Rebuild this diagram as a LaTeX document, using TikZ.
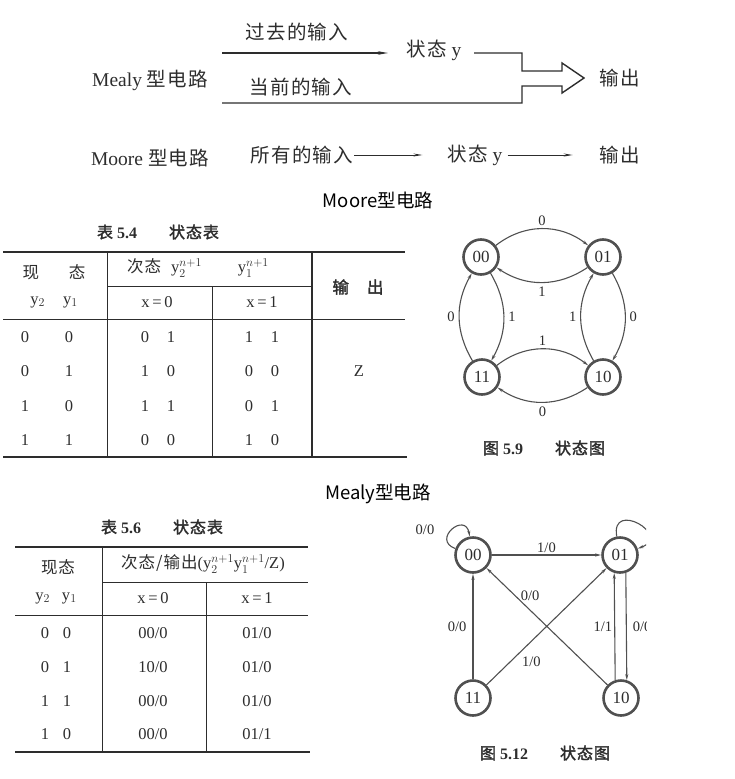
\documentclass[tikz,border=0pt]{standalone}
\usepackage{fontspec}
\setmainfont{Liberation Serif}
\newfontfamily\cjk{Noto Sans CJK SC}[LetterSpace=6,AutoFakeBold=2]
\newfontfamily\hei{Noto Sans CJK SC}
\usetikzlibrary{arrows.meta,positioning,calc}
\definecolor{ink}{RGB}{45,45,45}
\definecolor{ring}{RGB}{80,80,80}

\begin{document}
\begin{tikzpicture}[x=1pt,y=1pt,
  big/.style={font=\fontsize{19.5}{22}\selectfont,text=ink,inner sep=1pt},
  head/.style={font=\hei\fontsize{18.5}{21}\selectfont,text=black,inner sep=1pt},
  ttl/.style={font=\bfseries\fontsize{16}{19}\selectfont,text=ink,inner sep=1pt},
  cell/.style={font=\fontsize{16.5}{18}\selectfont,text=ink,inner sep=1pt},
  lbl/.style={font=\fontsize{14.5}{16}\selectfont,text=ink,inner sep=1pt},
  flow/.style={-{Stealth[length=10pt,width=3.5pt]},line width=1.4pt,draw=ink},
  thin flow/.style={-{Stealth[length=9pt,width=3pt]},line width=1pt,draw=ink},
  stt/.style={circle,draw=ring,line width=2.6pt,minimum size=35pt,inner sep=0,
    font=\fontsize{17}{18}\selectfont,text=ink},
  edg/.style={-{Stealth[length=6pt,width=3pt]},line width=1.1pt,draw=ring},
  rule/.style={draw=ink,line width=1.6pt},
  grid/.style={draw=ink,line width=0.8pt}
]
\useasboundingbox (0,0) rectangle (734,-779);

% Mealy and Moore, inputs to output
\node[big] (mealy) at (150,-80) {Mealy {\cjk 型电路}};
\node[big] (past) at (297,-32) {\cjk 过去的输入};
\node[big] (now) at (301,-87) {\cjk 当前的输入};
\node[big] (sy1) at (434,-50) {{\cjk 状态} y};
\node[big] (out1) at (620,-78) {\cjk 输出};
\coordinate (pastL) at (222,-53);
\coordinate (pastR) at (388,-53);
\coordinate (yR) at (474,-53);
\coordinate (nowL) at (222,-103);
\draw[flow] (pastL) -- (pastR);
\draw[line width=1.4pt,draw=ink] (yR) -| (522,-71) -- (562,-71) -- (562,-63) -- (584,-78)
  -- (562,-93) -- (562,-86) -- (522,-86) |- (nowL);

\node[big] (moore) at (150,-158) {Moore {\cjk 型电路}};
\node[big] (all) at (302,-155) {\cjk 所有的输入};
\node[big] (sy2) at (475,-155) {{\cjk 状态} y};
\node[big] (out2) at (620,-155) {\cjk 输出};
\draw[thin flow,shorten >=24pt] (all) -- (sy2);
\draw[thin flow,shorten >=26pt,shorten <=4pt] (sy2) -- (out2);

\node[head] (hmoore) at (378,-200) {Moore型电路};
\node[head] (hmealy) at (378,-494) {Mealy型电路};

% table 5.4
\node[ttl] (t54) at (158,-232) {{\cjk 表}~5.4\qquad{\cjk 状态表}};
\draw[rule] (3,-252) -- (405,-252);
\draw[grid] (3,-319) -- (405,-319);
\draw[rule] (3,-457) -- (407,-457);
\draw[grid] (107,-252) -- (107,-457);
\draw[grid] (212,-286) -- (212,-457);
\draw[grid,line width=1.1pt] (312,-252) -- (312,-457);
\draw[grid] (107,-286) -- (312,-286);
\node[cell] (p1) at (54,-272) {\cjk 现\hspace{30pt}态};
\node[cell] (p2) at (54,-302) {$\mathrm{y}_2$\hspace{18pt}$\mathrm{y}_1$};
\node[cell] (p3) at (198,-268) {{\cjk 次态}\hspace{10pt}$\mathrm{y}_2^{n+1}$\hspace{36pt}$\mathrm{y}_1^{n+1}$};
\node[cell] (p4) at (157,-302) {x\,=\,0};
\node[cell] (p5) at (262,-302) {x\,=\,1};
\node[cell] (p6) at (358,-287) {\cjk\bfseries 输\hspace{18pt}出};
\node[cell] (a1) at (47,-337) {0\hspace{36pt}0};
\node[cell] (b1) at (158,-337) {0\hspace{18pt}1};
\node[cell] (c1) at (262,-337) {1\hspace{18pt}1};
\node[cell] (a2) at (47,-371) {0\hspace{36pt}1};
\node[cell] (b2) at (158,-371) {1\hspace{18pt}0};
\node[cell] (c2) at (262,-371) {0\hspace{18pt}0};
\node[cell] (a3) at (47,-406) {1\hspace{36pt}0};
\node[cell] (b3) at (158,-406) {1\hspace{18pt}1};
\node[cell] (c3) at (262,-406) {0\hspace{18pt}1};
\node[cell] (a4) at (47,-440) {1\hspace{36pt}1};
\node[cell] (b4) at (158,-440) {0\hspace{18pt}0};
\node[cell] (c4) at (262,-440) {1\hspace{18pt}0};
\node[cell] (zout) at (359,-371) {Z};

% state diagram 5.9
\node[stt] (m00) at (481,-257) {00};
\node[stt] (m01) at (603,-257) {01};
\node[stt] (m11) at (482,-377) {11};
\node[stt] (m10) at (603,-377) {10};
\draw[edg] (m00) to[bend left=38] node[lbl,above=2pt] (g1) {0} (m01);
\draw[edg] (m01) to[bend left=34] node[lbl,below=3pt] (g2) {1} (m00);
\draw[edg] (m11) to[bend left=30] node[lbl,left=3pt] (g3) {0} (m00);
\draw[edg] (m00) to[bend left=30] node[lbl,right=3pt] (g4) {1} (m11);
\draw[edg] (m10) to[bend left=30] node[lbl,left=3pt] (g5) {1} (m01);
\draw[edg] (m01) to[bend left=30] node[lbl,right=3pt] (g6) {0} (m10);
\draw[edg] (m11) to[bend left=38] node[lbl,above=2pt] (g7) {1} (m10);
\draw[edg] (m10) to[bend left=34] node[lbl,below=3pt] (g8) {0} (m11);
\node[ttl] (f59) at (544,-448) {{\cjk 图}~5.9\qquad{\cjk 状态图}};

% table 5.6
\node[ttl] (t56) at (162,-527) {{\cjk 表}~5.6\qquad{\cjk 状态表}};
\draw[rule] (15,-547) -- (308,-547);
\draw[grid] (15,-615) -- (308,-615);
\draw[rule] (15,-752) -- (310,-752);
\draw[grid] (102,-547) -- (102,-752);
\draw[grid] (102,-582) -- (308,-582);
\draw[grid] (206,-582) -- (206,-752);
\node[cell] (q1) at (58,-567) {\cjk 现态};
\node[cell] (q2) at (56,-598) {$\mathrm{y}_2$\hspace{12pt}$\mathrm{y}_1$};
\node[cell] (q3) at (203,-564) {{\cjk 次态/输出}($\mathrm{y}_2^{n+1}\mathrm{y}_1^{n+1}$/Z)};
\node[cell] (q4) at (153,-598) {x\,=\,0};
\node[cell] (q5) at (257,-598) {x\,=\,1};
\node[cell] (d1) at (56,-633) {0\hspace{14pt}0};
\node[cell] (e1) at (153,-633) {00/0};
\node[cell] (f1) at (257,-633) {01/0};
\node[cell] (d2) at (56,-667) {0\hspace{14pt}1};
\node[cell] (e2) at (153,-667) {10/0};
\node[cell] (f2) at (257,-667) {01/0};
\node[cell] (d3) at (56,-701) {1\hspace{14pt}1};
\node[cell] (e3) at (153,-701) {00/0};
\node[cell] (f3) at (257,-701) {01/0};
\node[cell] (d4) at (56,-734) {1\hspace{14pt}0};
\node[cell] (e4) at (153,-734) {00/0};
\node[cell] (f4) at (257,-734) {01/1};

% state diagram 5.12, cut at the right like the page
\begin{scope}
\clip (380,-500) rectangle (646,-779);
\node[stt] (s00) at (473,-555) {00};
\node[stt] (s01) at (620,-555) {01};
\node[stt] (s11) at (473,-698) {11};
\node[stt] (s10) at (621,-698) {10};
\draw[edg] (s00) to[out=160,in=100,looseness=3.5] (s00);
\node[lbl] (k0) at (425,-530) {0/0};
\draw[edg] (s01) to[out=100,in=20,looseness=4] (s01);
\draw[edg] (s00) -- node[lbl,above=1pt] (k1) {1/0} (s01);
\draw[edg] (s11) -- node[lbl,left=5pt] (k2) {0/0} (s00);
\draw[edg] (s11) -- node[lbl,pos=0.25,below right=0pt and 4pt] (k3) {1/0} (s01);
\draw[edg] (s10) -- node[lbl,pos=0.64,above=8pt] (k4) {0/0} (s00);
\draw[edg] (s10.108) -- node[lbl,left=1pt] (k5) {1/1} (s01.252);
\draw[edg] (s01.288) -- node[lbl,right=5pt] (k6) {0/0} (s10.72);
\end{scope}
\node[ttl] (f512) at (545,-753) {{\cjk 图}~5.12\qquad{\cjk 状态图}};
\end{tikzpicture}
\end{document}
